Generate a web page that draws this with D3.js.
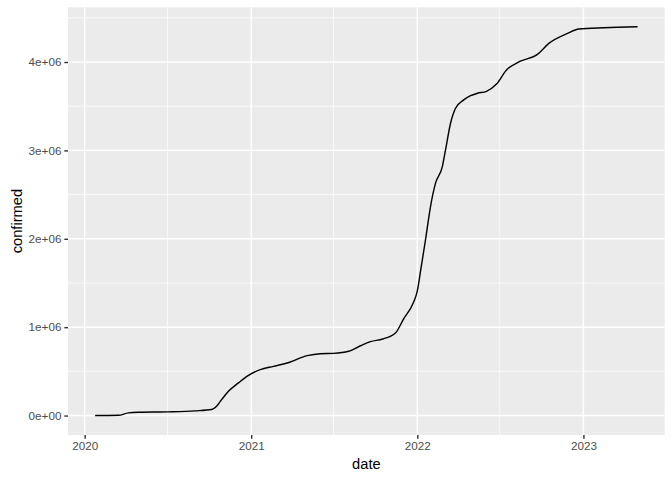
<!DOCTYPE html>
<html>
<head>
<meta charset="utf-8">
<script src="https://cdn.jsdelivr.net/npm/d3@7"></script>
<style>
  html, body { margin: 0; padding: 0; background: #fff; }
  svg { display: block; font-family: "Liberation Sans", Arial, sans-serif; }
</style>
</head>
<body>
<svg id="chart" width="672" height="480"></svg>
<script>
const dates = [
  "2020-01-24","2020-03-15","2020-04-06","2020-04-28","2020-07-03","2020-08-31",
  "2020-10-06","2020-10-17","2020-10-28","2020-11-12","2020-12-04","2020-12-26",
  "2021-01-21","2021-02-19","2021-03-21","2021-05-04","2021-06-02","2021-07-01",
  "2021-08-03","2021-08-29","2021-09-20","2021-10-17","2021-11-14","2021-12-02",
  "2021-12-23","2022-01-01","2022-01-08","2022-01-19","2022-01-30","2022-02-10",
  "2022-02-25","2022-03-04","2022-03-15","2022-03-26","2022-04-13","2022-04-28",
  "2022-05-13","2022-06-02","2022-06-24","2022-07-16","2022-08-13","2022-09-22",
  "2022-10-17","2022-11-27","2022-12-22","2023-02-15","2023-04-30"
];
const confirmed = [
  0, 3000, 30000, 37000, 42000, 53000,
  68000, 105000, 180000, 275000, 370000, 455000,
  520000, 557000, 595000, 678000, 700000, 704000,
  727000, 790000, 836000, 866000, 934000, 1095000,
  1273000, 1410000, 1630000, 1989000, 2365000, 2629000,
  2817000, 3006000, 3307000, 3477000, 3571000, 3619000,
  3646000, 3668000, 3750000, 3910000, 4003000, 4087000,
  4211000, 4324000, 4373000, 4388000, 4399000
];
const xTickLabels = ["2020","2021","2022","2023"];
const yTicks = [0, 1e6, 2e6, 3e6, 4e6];
const yTickLabels = ["0e+00","1e+06","2e+06","3e+06","4e+06"];
const yMinor = [0.5e6, 1.5e6, 2.5e6, 3.5e6, 4.5e6];
const xMinorLabels = ["2020-07-01","2021-07-01","2022-07-01"];

const parse = d3.utcParse("%Y-%m-%d");
const data = dates.map((d, i) => ({ date: parse(d), value: confirmed[i] }));

const panel = { left: 68, right: 664.7, top: 7.3, bottom: 435 };

const xExt = d3.extent(data, d => d.date);
const xSpan = xExt[1] - xExt[0];
const x = d3.scaleUtc()
  .domain([new Date(+xExt[0] - 0.05 * xSpan), new Date(+xExt[1] + 0.05 * xSpan)])
  .range([panel.left, panel.right]);

const yExt = d3.extent(data, d => d.value);
const ySpan = yExt[1] - yExt[0];
const y = d3.scaleLinear()
  .domain([yExt[0] - 0.05 * ySpan, yExt[1] + 0.05 * ySpan])
  .range([panel.bottom, panel.top]);

const svg = d3.select("#chart");

svg.append("rect")
  .attr("x", panel.left).attr("y", panel.top)
  .attr("width", panel.right - panel.left).attr("height", panel.bottom - panel.top)
  .attr("fill", "#EBEBEB");

const xTicks = xTickLabels.map(s => parse(s + "-01-01"));
const xMinor = xMinorLabels.map(parse);

const grid = svg.append("g");
grid.selectAll(".ymin").data(yMinor).join("line")
  .attr("x1", panel.left).attr("x2", panel.right)
  .attr("y1", d => y(d)).attr("y2", d => y(d))
  .attr("stroke", "#fff").attr("stroke-width", 0.71);
grid.selectAll(".xmin").data(xMinor).join("line")
  .attr("y1", panel.top).attr("y2", panel.bottom)
  .attr("x1", d => x(d)).attr("x2", d => x(d))
  .attr("stroke", "#fff").attr("stroke-width", 0.71);
grid.selectAll(".ymaj").data(yTicks).join("line")
  .attr("x1", panel.left).attr("x2", panel.right)
  .attr("y1", d => y(d)).attr("y2", d => y(d))
  .attr("stroke", "#fff").attr("stroke-width", 1.42);
grid.selectAll(".xmaj").data(xTicks).join("line")
  .attr("y1", panel.top).attr("y2", panel.bottom)
  .attr("x1", d => x(d)).attr("x2", d => x(d))
  .attr("stroke", "#fff").attr("stroke-width", 1.42);

const line = d3.line()
  .x(d => x(d.date))
  .y(d => y(d.value))
  .curve(d3.curveMonotoneX);

svg.append("path")
  .datum(data)
  .attr("d", line)
  .attr("fill", "none")
  .attr("stroke", "#000")
  .attr("stroke-width", 1.42)
  .attr("stroke-linejoin", "round");

const xAxis = d3.axisBottom(x)
  .tickValues(xTicks)
  .tickFormat((d, i) => xTickLabels[i])
  .tickSize(3.67).tickPadding(2.9);
const gx = svg.append("g").attr("transform", `translate(0,${panel.bottom})`).call(xAxis);
gx.select(".domain").remove();
gx.selectAll(".tick line").attr("stroke", "#333333").attr("stroke-width", 1.42);
gx.selectAll(".tick text").attr("fill", "#4D4D4D").attr("font-size", "11.7px")
  .attr("font-family", "Liberation Sans, Arial, sans-serif");

const yAxis = d3.axisLeft(y)
  .tickValues(yTicks)
  .tickFormat((d, i) => yTickLabels[i])
  .tickSize(3.67).tickPadding(2.9);
const gy = svg.append("g").attr("transform", `translate(${panel.left},0)`).call(yAxis);
gy.select(".domain").remove();
gy.selectAll(".tick line").attr("stroke", "#333333").attr("stroke-width", 1.42);
gy.selectAll(".tick text").attr("fill", "#4D4D4D").attr("font-size", "11.7px")
  .attr("font-family", "Liberation Sans, Arial, sans-serif");

svg.append("text")
  .attr("x", (panel.left + panel.right) / 2).attr("y", 469)
  .attr("text-anchor", "middle").attr("font-size", "14.67px").attr("fill", "#000")
  .text("date");

svg.append("text")
  .attr("transform", `translate(22,${(panel.top + panel.bottom) / 2}) rotate(-90)`)
  .attr("text-anchor", "middle").attr("font-size", "14.67px").attr("fill", "#000")
  .text("confirmed");
</script>
</body>
</html>
